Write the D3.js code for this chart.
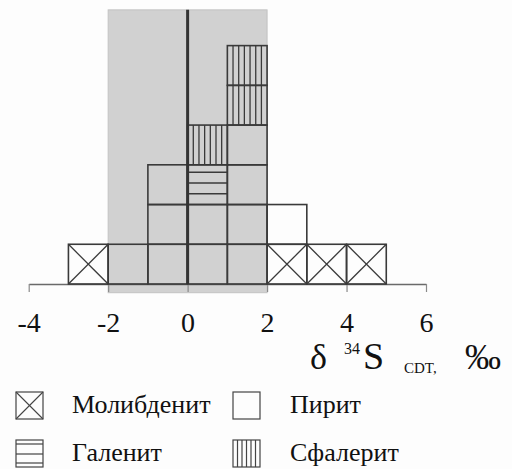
<!DOCTYPE html>
<html>
<head>
<meta charset="utf-8">
<script src="https://cdn.jsdelivr.net/npm/d3@7"></script>
<style>
  html, body { margin: 0; padding: 0; background: #fdfdfd; }
  svg { display: block; }
  svg text { font-family: 'Times New Roman' !important; }
</style>
</head>
<body>
<svg id="chart" width="512" height="469" font-family="Times New Roman"></svg>
<script>
// ---- data ----
const binStarts = [-3, -2, -1, 0, 1, 2, 3, 4];          // bin [start, start+1]
const molybdenite = [1, 0, 0, 0, 0, 1, 1, 1];
const pyrite      = [0, 1, 3, 2, 4, 1, 0, 0];
const galena      = [0, 0, 0, 1, 0, 0, 0, 0];
const sphalerite  = [0, 0, 0, 1, 2, 0, 0, 0];
const tickValues  = [-4, -2, 0, 2, 4, 6];
const bandRange   = [-2, 2];
const seriesKeys  = ["molybdenite", "pyrite", "galena", "sphalerite"];
const legendLabels = ["Молибденит", "Пирит", "Галенит", "Сфалерит"];

const svg = d3.select("#chart");
const W = 512, H = 469;
svg.append("rect").attr("width", W).attr("height", H).attr("fill", "#fdfdfd");

const x = d3.scaleLinear().domain([-4, 6]).range([28.7, 426]);
const unit = x(1) - x(0);
const y = d3.scaleLinear().domain([0, 6.9]).range([284, 284 - 6.9 * unit]);

const stroke = "#3a3a3a";

function txt(sel, size) {
  return sel.attr("font-family", "Times New Roman").attr("font-size", size).attr("fill", "#111");
}

// band
svg.append("rect")
  .attr("x", x(bandRange[0])).attr("width", x(bandRange[1]) - x(bandRange[0]))
  .attr("y", y(6.9)).attr("height", y(0) + 8.7 - y(6.9))
  .attr("fill", "#d1d1d1").attr("stroke", "#c2c2c2").attr("stroke-width", 1);

// axis
const axis = d3.axisBottom(x).tickValues(tickValues).tickSize(8).tickSizeOuter(0)
  .tickFormat(d => d < 0 ? "-" + Math.abs(d) : String(d));
const gAx = svg.append("g").attr("transform", `translate(0,${y(0)})`).call(axis);
gAx.attr("font-family", "Times New Roman").attr("font-size", 28);
gAx.select(".domain").attr("stroke", "#6a6a6a").attr("stroke-width", 1.5);
gAx.selectAll(".tick line").attr("stroke", "#8a8a8a").attr("stroke-width", 1.2);
txt(gAx.selectAll(".tick text").attr("y", 48).attr("dy", 0), 28);

// stacked cells
const rows = binStarts.map((b, i) => ({
  bin: b, molybdenite: molybdenite[i], pyrite: pyrite[i],
  galena: galena[i], sphalerite: sphalerite[i]
}));
const stack = d3.stack().keys(seriesKeys)(rows);
const cells = [];
stack.forEach(layer => {
  layer.forEach(seg => {
    for (let k = seg[0]; k < seg[1]; k++) {
      cells.push({ type: layer.key, x0: seg.data.bin, y0: k });
    }
  });
});

const gCells = svg.append("g");
cells.forEach(c => {
  const x0 = x(c.x0), x1 = x(c.x0 + 1), yt = y(c.y0 + 1), yb = y(c.y0);
  const g = gCells.append("g");
  g.append("rect").attr("x", x0).attr("y", yt).attr("width", x1 - x0).attr("height", yb - yt)
    .attr("fill", "none").attr("stroke", stroke).attr("stroke-width", 1.6);
  if (c.type === "molybdenite") {
    g.append("line").attr("x1", x0).attr("y1", yt).attr("x2", x1).attr("y2", yb)
      .attr("stroke", stroke).attr("stroke-width", 1.3);
    g.append("line").attr("x1", x0).attr("y1", yb).attr("x2", x1).attr("y2", yt)
      .attr("stroke", stroke).attr("stroke-width", 1.3);
  } else if (c.type === "galena") {
    [0.19, 0.46, 0.73].forEach(f => {
      const yy = yt + f * (yb - yt);
      g.append("line").attr("x1", x0).attr("x2", x1).attr("y1", yy).attr("y2", yy)
        .attr("stroke", stroke).attr("stroke-width", 1.5);
    });
  } else if (c.type === "sphalerite") {
    d3.range(1, 7).forEach(i => {
      const xx = x0 + i * (x1 - x0) / 7;
      g.append("line").attr("x1", xx).attr("x2", xx).attr("y1", yt).attr("y2", yb)
        .attr("stroke", stroke).attr("stroke-width", 1.3);
    });
  }
});

// zero line
svg.append("line").attr("x1", x(0)).attr("x2", x(0)).attr("y1", y(6.9)).attr("y2", y(0))
  .attr("stroke", "#333").attr("stroke-width", 3);

// axis title
txt(svg.append("text").attr("x", 310).attr("y", 369), 36).text("δ");
txt(svg.append("text").attr("x", 344).attr("y", 354), 16).text("34");
txt(svg.append("text").attr("x", 363).attr("y", 369), 38).text("S");
txt(svg.append("text").attr("x", 404).attr("y", 373), 15).text("CDT,");
txt(svg.append("text").attr("x", 465).attr("y", 369), 36).text("‰");

// legend
const legendPos = [
  { sx: 16, sy: 392, tx: 72, ty: 413 },
  { sx: 233, sy: 392, tx: 290, ty: 413 },
  { sx: 16, sy: 440, tx: 72, ty: 461 },
  { sx: 233, sy: 440, tx: 290, ty: 461 }
];
const sw = 27, sh = 27;
const lstroke = "#444";
seriesKeys.forEach((key, i) => {
  const p = legendPos[i];
  const g = svg.append("g");
  g.append("rect").attr("x", p.sx).attr("y", p.sy).attr("width", sw).attr("height", sh)
    .attr("fill", "none").attr("stroke", lstroke).attr("stroke-width", 1.2);
  if (key === "molybdenite") {
    g.append("line").attr("x1", p.sx).attr("y1", p.sy).attr("x2", p.sx + sw).attr("y2", p.sy + sh)
      .attr("stroke", lstroke).attr("stroke-width", 1.1);
    g.append("line").attr("x1", p.sx).attr("y1", p.sy + sh).attr("x2", p.sx + sw).attr("y2", p.sy)
      .attr("stroke", lstroke).attr("stroke-width", 1.1);
  } else if (key === "galena") {
    [4, 14, 23].forEach(o => g.append("line").attr("x1", p.sx).attr("x2", p.sx + sw)
      .attr("y1", p.sy + o).attr("y2", p.sy + o).attr("stroke", lstroke).attr("stroke-width", 1.2));
  } else if (key === "sphalerite") {
    d3.range(1, 6).forEach(k => {
      const xx = p.sx + k * sw / 6;
      g.append("line").attr("x1", xx).attr("x2", xx).attr("y1", p.sy).attr("y2", p.sy + sh)
        .attr("stroke", lstroke).attr("stroke-width", 1.2);
    });
  }
  txt(svg.append("text").attr("x", p.tx).attr("y", p.ty), 26).text(legendLabels[i]);
});
</script>
</body>
</html>
